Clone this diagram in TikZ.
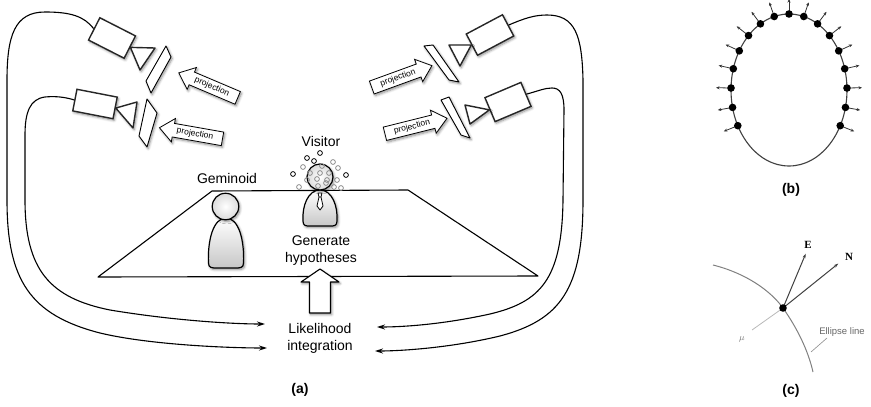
\documentclass[tikz,border=0pt]{standalone}
\usepackage{fontspec}
\setmainfont{Liberation Sans}
\newfontfamily\serifbf{Liberation Serif}
\usetikzlibrary{arrows.meta,shapes.arrows,shadows.blur,calc}

\begin{document}
\begin{tikzpicture}[x=1pt,y=-1pt,
  lbl/.style={font=\fontsize{14}{17}\selectfont, align=center, inner sep=0pt},
  caption/.style={font=\fontsize{14}{17}\selectfont\bfseries, inner sep=0pt},
  soft/.style={blur shadow={shadow xshift=1.2pt, shadow yshift=-1.6pt,
      shadow blur steps=6, shadow blur radius=2.5pt, shadow opacity=45}},
  cambody/.style={rectangle, draw=black!85, line width=1.4pt, fill=white,
      inner sep=0pt, soft},
  lens/.style={draw=black!85, line width=1.4pt, fill=white, line join=round, soft},
  screen/.style={draw=black, line width=0.9pt, fill=white, line join=round, soft},
  projarrow/.style={single arrow, draw=black, line width=0.8pt, fill=white, soft,
      font=\fontsize{8.5}{9}\selectfont, inner xsep=1pt, inner ysep=2.5pt,
      single arrow head extend=5pt, single arrow tip angle=80,
      minimum height=64pt},
  feed/.style={line width=1.1pt, -{Stealth[length=8pt,width=5pt]}},
  figline/.style={draw=black, line width=1.2pt, soft},
  particle/.style={line width=0.8pt},
  normarrow/.style={line width=0.8pt, draw=black!80,
      -{Stealth[length=3.5pt,width=3pt]}},
  vec/.style={line width=1pt, draw=black!75, -{Stealth[length=4.5pt,width=3pt]}},
]
\useasboundingbox (0,0) rectangle (871,407);

% ---------------- (a) scene ----------------
% floor of the room
\draw[line width=1.1pt, line join=round]
  (98,277) -- (212,191) -- (408,190) -- (538,276) -- cycle;

% cameras: body + lens
\node[cambody, minimum width=40pt, minimum height=25pt, rotate=-27] (cam1) at (112,38) {};
\draw[lens] (cam1.east) -- (155,48) -- (140,70) -- cycle;
\node[cambody, minimum width=41pt, minimum height=22pt, rotate=-11] (cam2) at (95,104) {};
\draw[lens] (cam2.east) -- (137,102) -- (133,128) -- cycle;
\node[cambody, minimum width=41pt, minimum height=24pt, rotate=28] (cam3) at (490,35) {};
\draw[lens] (cam3.west) -- (449,45) -- (460,66) -- cycle;
\node[cambody, minimum width=39pt, minimum height=26pt, rotate=23] (cam4) at (508,102) {};
\draw[lens] (cam4.west) -- (465,105) -- (470,124) -- cycle;

% image planes
\draw[screen] (166,46) -- (171,57) -- (151,93) -- (146,81) -- cycle;
\draw[screen] (147,99) -- (157,113) -- (147,147) -- (139,136) -- cycle;
\draw[screen] (424,46) -- (433,45) -- (459,82) -- (449,80) -- cycle;
\draw[screen] (441,100) -- (449,97) -- (470,138) -- (461,135) -- cycle;

% projection arrows
\node[projarrow, shape border rotate=180, rotate=-23] (pr1) at (212,87) {projection};
\node[projarrow, shape border rotate=180, rotate=-10] (pr2) at (195,134) {projection};
\node[projarrow, rotate=20] (pr3) at (398,78) {projection};
\node[projarrow, rotate=14] (pr4) at (412,127) {projection};

% people
\tikzset{
  headball/.style={figline, inner color=white, outer color=black!14},
  bodyfill/.style={figline, top color=white, bottom color=black!22},
}
% Geminoid
\draw[bodyfill] (208.5,263) .. controls (207.5,241) and (213,218) .. (226,218)
  .. controls (239,218) and (244.5,241) .. (243.5,263)
  .. controls (243.5,268) and (240,268) .. (235,268) -- (217,268)
  .. controls (212,268) and (208.5,268) .. cycle;
\node[headball, circle, minimum size=26.5pt, inner sep=0pt] (gemhead) at (225.5,206.5) {};
% Visitor
\draw[bodyfill] (303,221) .. controls (302,206) and (308,190) .. (320,190)
  .. controls (332,190) and (338,206) .. (337,221)
  .. controls (337,226) and (334,226) .. (330,226) -- (310,226)
  .. controls (306,226) and (303,226) .. cycle;
\draw[line width=0.8pt, fill=white, line join=round]
  (318,193) -- (322,193) -- (321,197) -- (319,197) -- cycle
  (319,197) -- (317,206) -- (320,210) -- (323,206) -- (321,197);
\node[headball, circle, minimum size=26pt, inner sep=0pt] (vishead) at (320,177) {};
% hypothesis particles around the visitor's head
\foreach \px/\py in {320/153, 307/158, 314/161, 293/174, 346/175}
  \draw[particle, draw=black] (\px,\py) circle[radius=2.4pt];
\foreach \px/\py in {333/162, 303/167, 322/166, 338/168, 310/173, 320/173, 329/173,
                     307/180, 317/179, 327/180, 337/180, 299/187, 318/186, 326/183,
                     334/187, 341/188}
  \draw[particle, draw=black!45] (\px,\py) circle[radius=2.4pt];

% labels
\node[lbl] (gemlbl) at (227,178) {Geminoid};
\node[lbl] (vislbl) at (321,141) {Visitor};
\node[lbl] (gen) at (321,251) {Generate\\hypotheses};
\node[lbl] (lik) at (320,338) {Likelihood\\integration};
\node[caption] (capa) at (300,390) {(a)};

% likelihood feeds the hypotheses
\draw[line width=1.1pt, fill=white, line join=round, soft]
  (320,269) -- (339,282) -- (330.5,282) -- (330.5,313) -- (309.5,313)
  -- (309.5,282) -- (301,282) -- cycle;

% camera outputs into the likelihood
\coordinate (inL1) at (265,324);
\coordinate (inL2) at (267,348);
\coordinate (inR1) at (377,327);
\coordinate (inR2) at (375,351);
\draw[feed] (cam1.west) .. controls (84,16) and (70,12) .. (45,12)
  .. controls (15,12) and (7,35) .. (7,80) -- (7,200)
  .. controls (7,280) and (30,315) .. (100,333)
  .. controls (150,345) and (230,348) .. (inL2);
\draw[feed] (cam2.west) .. controls (65,97) and (55,96) .. (45,97)
  .. controls (30,99) and (25,112) .. (25,135) -- (25,200)
  .. controls (25,270) and (50,298) .. (110,310)
  .. controls (170,320) and (230,324) .. (inL1);
\draw[feed] (cam3.east) .. controls (525,18) and (535,15) .. (547,15)
  .. controls (575,15) and (582,35) .. (583,80) -- (583,200)
  .. controls (583,290) and (560,320) .. (500,336)
  .. controls (450,348) and (400,351) .. (inR2);
\draw[feed] (cam4.east) .. controls (538,91) and (545,88) .. (552,88)
  .. controls (560,88) and (564,94) .. (564,110) -- (563,200)
  .. controls (562,280) and (540,302) .. (490,314)
  .. controls (440,325) and (400,327) .. (inR1);

% ---------------- (b) contour with normals ----------------
\draw[line width=1.1pt, black!75] (789,90) ellipse [x radius=58pt, y radius=76pt];
\foreach \i in {0,...,16} {
  \pgfmathsetmacro\ang{-28+14.75*\i}
  \pgfmathsetmacro\nx{cos(\ang)*76}
  \pgfmathsetmacro\ny{sin(\ang)*58}
  \pgfmathsetmacro\nl{sqrt(\nx*\nx+\ny*\ny)}
  \pgfmathsetmacro\ux{\nx/\nl}
  \pgfmathsetmacro\uy{\ny/\nl}
  \pgfmathsetmacro\qx{789+58*cos(\ang)}
  \pgfmathsetmacro\qy{90-76*sin(\ang)}
  \coordinate (p\i) at (\qx,\qy);
  \draw[normarrow] ({\qx+3*\ux},{\qy-3*\uy}) -- ({\qx+15*\ux},{\qy-15*\uy});
  \fill (p\i) circle[radius=3.8pt];
}
\node[caption] (capb) at (791,190) {(b)};

% ---------------- (c) local frame on the ellipse ----------------
\coordinate (c0) at (783,308);
\draw[black!50, line width=1pt] (713,265) .. controls (745,273) and (770,290) .. (c0)
  .. controls (797,328) and (808,350) .. (813,372);
\draw[black!28, line width=0.8pt] (c0) -- (752,330);
\node[text=black!55, inner sep=0pt, font=\fontsize{9}{10}\selectfont] (mu) at (742,339) {$\mu$};
\node[inner sep=0pt] (etip) at (806,253) {};
\node[inner sep=0pt] (ntip) at (839,263) {};
\draw[vec] (c0) -- (etip);
\draw[vec] (c0) -- (ntip);
\node[font=\serifbf\bfseries\fontsize{11}{12}\selectfont, inner sep=0pt] (elbl) at (808,245) {E};
\node[font=\serifbf\bfseries\fontsize{11}{12}\selectfont, inner sep=0pt] (nlbl) at (849,257) {N};
\fill (c0) circle[radius=3.8pt];
\node[text=black!60, inner sep=0pt, font=\fontsize{9.5}{11}\selectfont] (ell) at (842,332) {Ellipse line};
\draw[black!45, line width=0.6pt] (811,352) -- (827,338);
\node[caption] (capc) at (791,391) {(c)};
\end{tikzpicture}
\end{document}
